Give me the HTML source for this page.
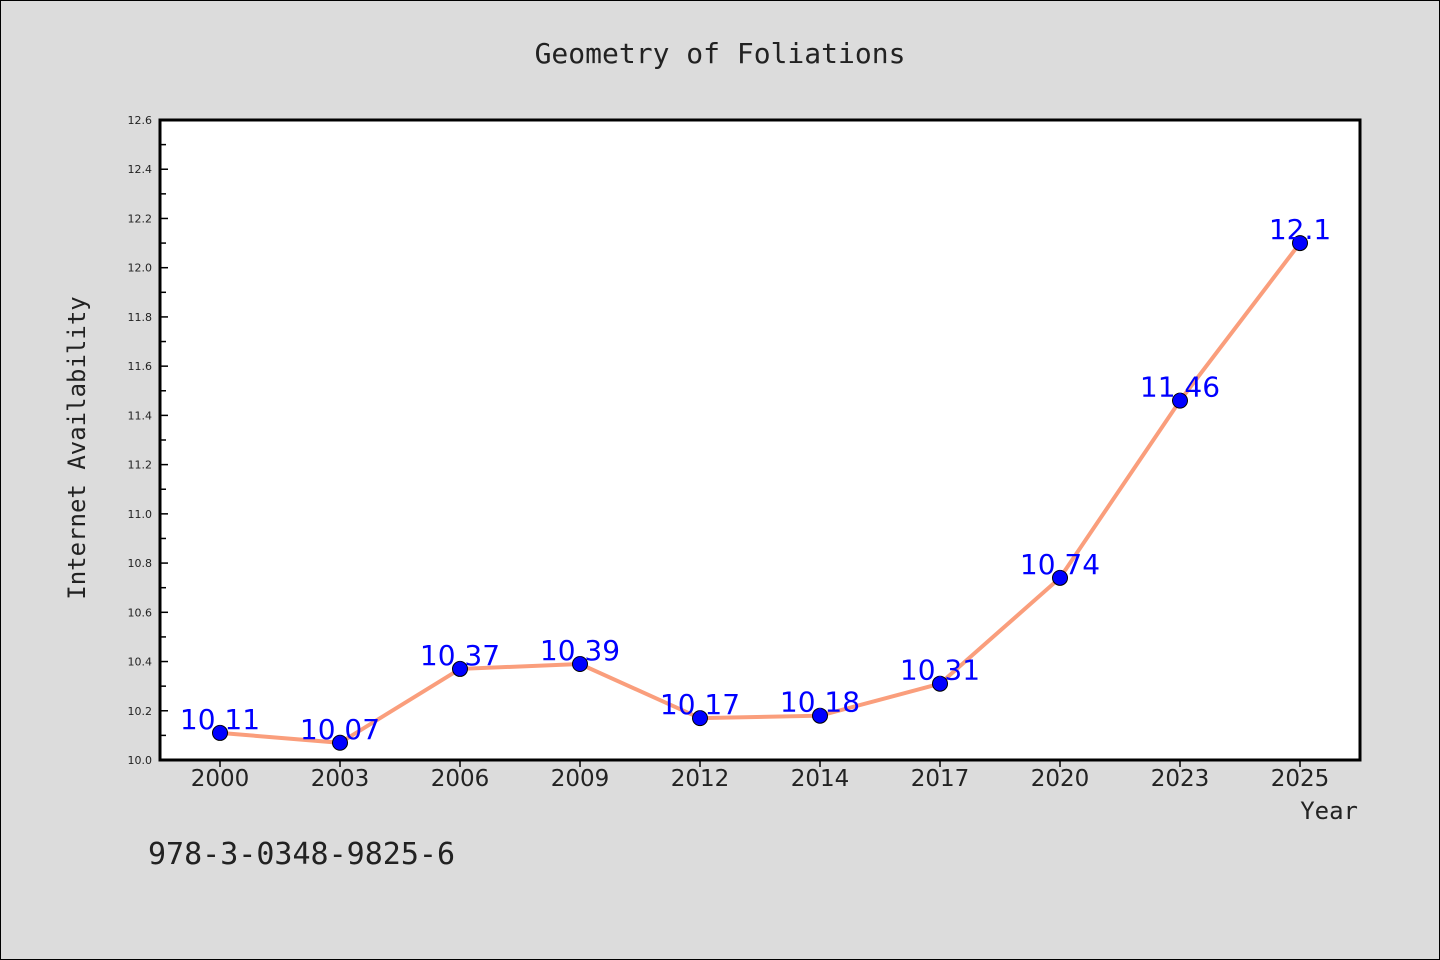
<!DOCTYPE html>
<html><head><meta charset="utf-8"><style>
body{margin:0;background:#dcdcdc;}
svg{display:block;font-family:"DejaVu Sans","Liberation Sans",sans-serif;}
</style></head><body>
<svg id="chart" width="1440" height="960">
<rect x="0.5" y="0.5" width="1439" height="959" fill="#dcdcdc" stroke="#000"/>
<text x="720" y="63" text-anchor="middle" font-size="28" font-family="'WenQuanYi Zen Hei','DejaVu Sans Mono',monospace" fill="#222">Geometry of Foliations</text>
<rect x="160" y="120" width="1200" height="640" fill="#fff"/>
<g id="yt"></g><g id="xt"></g>
<polyline id="line" fill="none" stroke="#fa9e7c" stroke-width="4"/>
<g id="pts"></g>
<rect x="160" y="120" width="1200" height="640" fill="none" stroke="#000" stroke-width="3"/>
<text transform="translate(85,448) rotate(-90)" text-anchor="middle" font-size="24" font-family="'WenQuanYi Zen Hei','DejaVu Sans Mono',monospace" fill="#222">Internet Availability</text>
<text x="1358" y="819" text-anchor="end" font-size="24" font-family="'WenQuanYi Zen Hei','DejaVu Sans Mono',monospace" fill="#222">Year</text>
<text x="148" y="864" font-size="30" font-family="'WenQuanYi Zen Hei','DejaVu Sans Mono',monospace" fill="#222">978-3-0348-9825-6</text>
</svg>
<script>
const categories=["2000","2003","2006","2009","2012","2014","2017","2020","2023","2025"];
const values=[10.11,10.07,10.37,10.39,10.17,10.18,10.31,10.74,11.46,12.1];
const labels=["10.11","10.07","10.37","10.39","10.17","10.18","10.31","10.74","11.46","12.1"];
const yTicks=["10.0","10.2","10.4","10.6","10.8","11.0","11.2","11.4","11.6","11.8","12.0","12.2","12.4","12.6"];
const NS="http://www.w3.org/2000/svg";
const yMin=10.0,yMax=12.6;
const y=v=>760-(v-yMin)/(yMax-yMin)*640;
const x=i=>220+i*120;
function mk(t,a,p){const e=document.createElementNS(NS,t);for(const k in a)e.setAttribute(k,a[k]);p.appendChild(e);return e;}
const yt=document.getElementById('yt');
yTicks.forEach((t,i)=>{const v=parseFloat(t),yy=y(v);
 const l=mk('line',{x1:160,x2:168,y1:yy,y2:yy,stroke:'#000','stroke-width':1.5},yt);
 
 
 const tx=mk('text',{x:152,y:yy+4,'text-anchor':'end','font-size':11,fill:'#222'},yt);tx.textContent=t;
 
 
 if(i<yTicks.length-1){const ym=y(v+0.1);
  const m=mk('line',{x1:160,x2:166,y1:ym,y2:ym,stroke:'#000','stroke-width':1.5},yt);
  
  }
});
const xt=document.getElementById('xt');
categories.forEach((c,i)=>{
 const l=mk('line',{x1:x(i),x2:x(i),y1:760,y2:767,stroke:'#000','stroke-width':1.5},xt);
 
 
 const t=mk('text',{x:x(i),y:786,'text-anchor':'middle','font-size':23,fill:'#222'},xt);t.textContent=c;
 
 
});
document.getElementById('line').setAttribute('points',values.map((v,i)=>x(i)+','+y(v)).join(' '));
const pts=document.getElementById('pts');
values.forEach((v,i)=>{
 const c=mk('circle',{cx:x(i),cy:y(v),r:7.5,fill:'#0000ff',stroke:'#000','stroke-width':1},pts);
 
 
 const t=mk('text',{x:x(i),y:y(v)-4,'text-anchor':'middle','font-size':28,fill:'#0000ff'},pts);t.textContent=labels[i];
 
 
});
</script>
</body></html>
